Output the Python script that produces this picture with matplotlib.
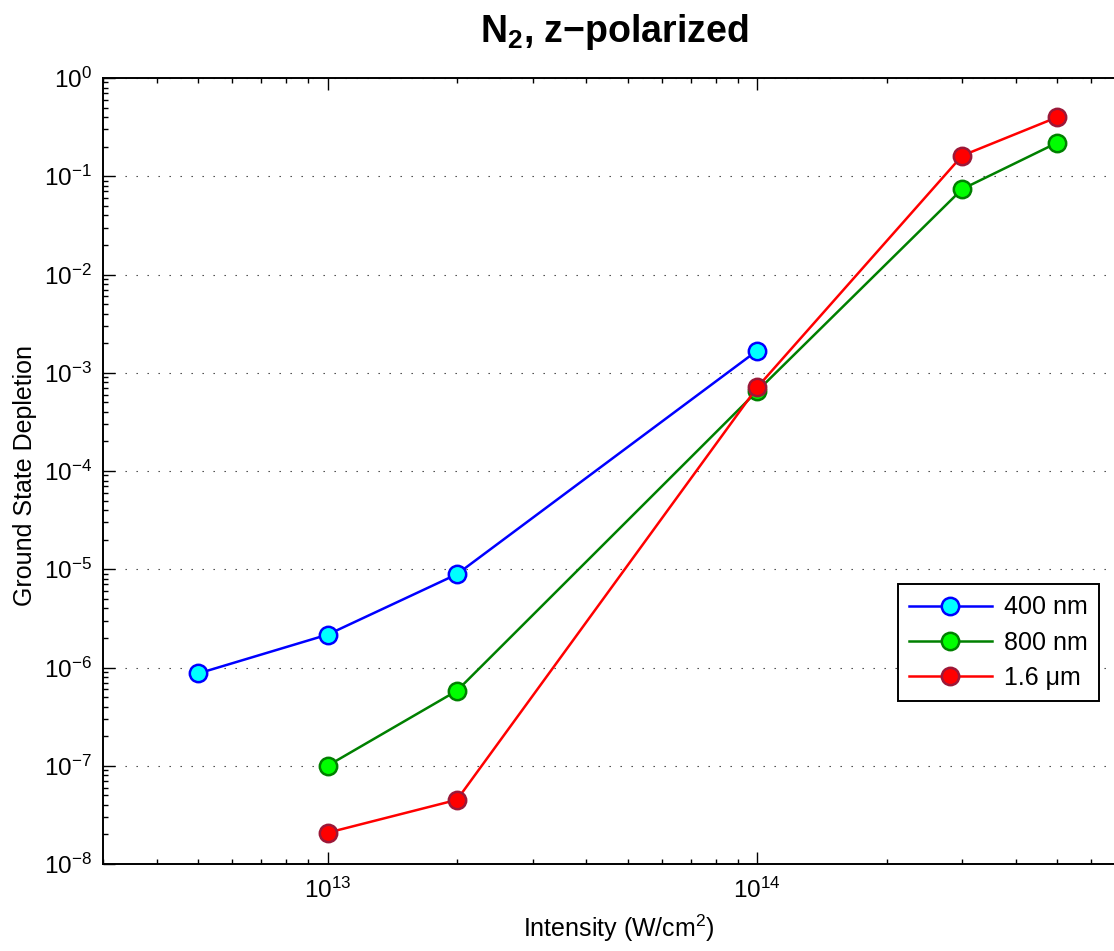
import matplotlib
matplotlib.use("Agg")
import matplotlib.pyplot as plt
from matplotlib.ticker import LogLocator, NullFormatter

plt.rcParams['font.family'] = ['Liberation Sans', 'DejaVu Sans']
plt.rcParams['mathtext.fontset'] = 'custom'
plt.rcParams['mathtext.rm'] = 'Liberation Sans'
plt.rcParams['mathtext.it'] = 'Liberation Sans:italic'
plt.rcParams['mathtext.bf'] = 'Liberation Sans:bold'

# Ground state depletion of N2 versus peak intensity, per wavelength
x_400 = [5e12, 1e13, 2e13, 1e14]
y_400 = [8.7e-7, 2.16e-6, 8.9e-6, 1.68e-3]

x_800 = [1e13, 2e13, 1e14, 3e14, 5e14]
y_800 = [1.0e-7, 5.8e-7, 6.5e-4, 7.4e-2, 0.22]

x_1600 = [1e13, 2e13, 1e14, 3e14, 5e14]
y_1600 = [2.08e-8, 4.5e-8, 7.1e-4, 0.162, 0.40]

labels = ['400 nm', '800 nm', '1.6 μm']

W, H = 1114, 951
fig = plt.figure(figsize=(W / 100, H / 100), dpi=100)
ax = fig.add_axes([103 / W, 87 / H, (W - 103) / W, 786 / H])

style = dict(lw=1.8, ms=12.5, mew=1.8)
ax.plot(x_400, y_400, '-o', color=(0, 0, 1),
        mfc=(0, 1, 1), mec=(0, 0, 1), label=labels[0], **style)
ax.plot(x_800, y_800, '-o', color=(0, 0.5, 0),
        mfc=(0, 1, 0), mec=(0, 0.5, 0), label=labels[1], **style)
ax.plot(x_1600, y_1600, '-o', color=(1, 0, 0),
        mfc=(1, 0, 0), mec='#9c1838', label=labels[2], **style)

ax.set_xscale('log')
ax.set_yscale('log')
ax.set_xlim(3e12, 6.77e14)
ax.set_ylim(1e-8, 1e0)

ax.yaxis.set_major_locator(LogLocator(base=10, numticks=20))
ax.yaxis.set_minor_locator(LogLocator(base=10, subs=range(2, 10), numticks=100))
ax.xaxis.set_minor_formatter(NullFormatter())
ax.yaxis.set_minor_formatter(NullFormatter())

ax.grid(True, axis='y', which='major', color='0.2',
        linestyle=(0, (1.2, 8.7)), linewidth=0.8)

for s in ax.spines.values():
    s.set_linewidth(1.4)
ax.spines['right'].set_visible(False)

ax.tick_params(which='both', direction='in', top=True, right=False,
               labelsize=17.5, width=1.0)
ax.tick_params(which='major', length=8.5)
ax.tick_params(which='minor', length=3.5)
ax.tick_params(axis='x', which='major', pad=10)
ax.tick_params(axis='y', which='major', pad=8)

fig.text(614 / W, 1 - 42 / H, r'N$_\mathbf{2}$, z−polarized',
         ha='center', va='baseline', fontsize=27, fontweight='bold')
fig.text(619 / W, 1 - 937 / H, r'Intensity (W/cm$^2$)',
         ha='center', va='baseline', fontsize=18)
fig.text(25 / W, 1 - 476 / H, 'Ground State Depletion',
         ha='center', va='center', rotation=90, fontsize=18)

leg = ax.legend(loc='upper right', bbox_to_anchor=(1099 / W, 1 - 584 / H),
                bbox_transform=fig.transFigure, numpoints=1, fontsize=18,
                handlelength=3.3, handletextpad=0.5, labelspacing=0.45,
                borderpad=0.45, borderaxespad=0, fancybox=False,
                framealpha=1, edgecolor='black')
leg.get_frame().set_linewidth(1.4)

fig.savefig('out.png', dpi=100)
